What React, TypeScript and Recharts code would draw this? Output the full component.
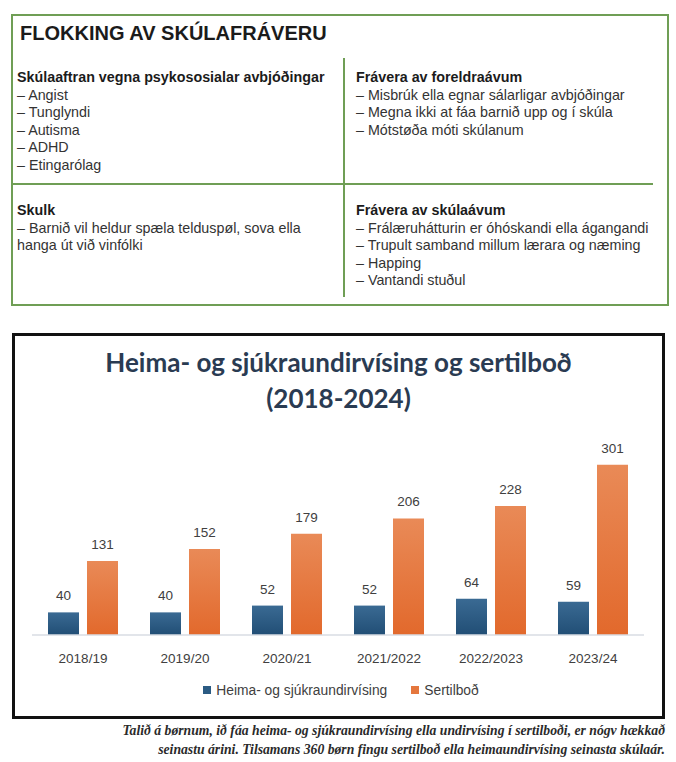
import React from 'react';
import { BarChart, Bar, XAxis, YAxis, LabelList, Legend } from 'recharts';

const categories = ['2018/19', '2019/20', '2020/21', '2021/2022', '2022/2023', '2023/24'];
const heimaValues = [40, 40, 52, 52, 64, 59];
const sertilbodValues = [131, 152, 179, 206, 228, 301];
const seriesNames = ['Heima- og sjúkraundirvísing', 'Sertilboð'];

const data = categories.map((c, i) => ({
  year: c,
  heima: heimaValues[i],
  sertilbod: sertilbodValues[i],
}));

const GREEN = '#6f9e55';
const boxFont = '"Liberation Sans", Arial, sans-serif';
const chartFont = '"Liberation Sans", Arial, sans-serif';

const blocks = [
  {
    left: 17,
    top: 69,
    head: 'Skúlaaftran vegna psykososialar avbjóðingar',
    lines: ['– Angist', '– Tunglyndi', '– Autisma', '– ADHD', '– Etingarólag'],
  },
  {
    left: 356,
    top: 69,
    head: 'Frávera av foreldraávum',
    lines: ['– Misbrúk ella egnar sálarligar avbjóðingar', '– Megna ikki at fáa barnið upp og í skúla', '– Mótstøða móti skúlanum'],
  },
  {
    left: 17,
    top: 202,
    head: 'Skulk',
    lines: ['– Barnið vil heldur spæla telduspøl, sova ella', 'hanga út við vinfólki'],
  },
  {
    left: 356,
    top: 202,
    head: 'Frávera av skúlaávum',
    lines: ['– Frálæruhátturin er óhóskandi ella ágangandi', '– Trupult samband millum lærara og næming', '– Happing', '– Vantandi stuðul'],
  },
];

function LegendContent() {
  const colors = ['#2b5b83', '#e5773d'];
  return (
    <div style={{ height: 20, display: 'flex', justifyContent: 'center', alignItems: 'center', fontFamily: chartFont, fontSize: 13.8, color: '#404040', paddingLeft: 6 }}>
      {seriesNames.map((n, i) => (
        <span key={n} style={{ display: 'flex', alignItems: 'center', marginLeft: i ? 24 : 0 }}>
          <span style={{ width: 8, height: 8, background: colors[i], display: 'inline-block', marginRight: 5 }} />
          {n}
        </span>
      ))}
    </div>
  );
}

export default function App() {
  return (
    <div style={{ position: 'absolute', left: 0, top: 0, width: 676, height: 762, background: '#fff', overflow: 'hidden' }}>
      {/* upper box */}
      <div style={{ position: 'absolute', left: 11, top: 14, width: 658, height: 292, border: `2.5px solid ${GREEN}`, boxSizing: 'border-box' }} />
      <div style={{ position: 'absolute', left: 343, top: 58, width: 1.5, height: 239, background: GREEN }} />
      <div style={{ position: 'absolute', left: 11, top: 183, width: 642, height: 1.5, background: GREEN }} />
      <div style={{ position: 'absolute', left: 20, top: 21, fontFamily: boxFont, fontWeight: 700, fontSize: 20, lineHeight: '24px', color: '#1b1b1b' }}>
        FLOKKING AV SKÚLAFRÁVERU
      </div>
      {blocks.map((b) => (
        <div key={b.head} style={{ position: 'absolute', left: b.left, top: b.top, fontFamily: boxFont, fontSize: 14.3, lineHeight: '17.6px', color: '#333', whiteSpace: 'nowrap' }}>
          <div style={{ fontWeight: 700, color: '#1b1b1b' }}>{b.head}</div>
          {b.lines.map((l) => (
            <div key={l}>{l}</div>
          ))}
        </div>
      ))}

      {/* chart box */}
      <div style={{ position: 'absolute', left: 12, top: 333, width: 653, height: 386, border: '3px solid #111', boxSizing: 'border-box' }} />
      <div style={{ position: 'absolute', left: 12, top: 344, width: 653, textAlign: 'center', fontFamily: 'Lato, sans-serif', fontWeight: 700, fontSize: 26, lineHeight: '36px', color: '#2a3b52' }}>
        Heima- og sjúkraundirvísing og sertilboð
        <br />
        (2018-2024)
      </div>
      <div style={{ position: 'absolute', left: 0, top: 440 }}>
        <BarChart width={676} height={265} data={data} margin={{ top: 14, right: 32, bottom: 5, left: 32 }} barSize={31} barGap={8}>
          <defs>
            <linearGradient id="blueGrad" x1="0" y1="0" x2="0" y2="1">
              <stop offset="0%" stopColor="#3a6a93" />
              <stop offset="100%" stopColor="#214e75" />
            </linearGradient>
            <linearGradient id="orangeGrad" x1="0" y1="0" x2="0" y2="1">
              <stop offset="0%" stopColor="#e98a57" />
              <stop offset="100%" stopColor="#e2692c" />
            </linearGradient>
          </defs>
          <XAxis
            dataKey="year"
            height={45}
            tickLine={false}
            axisLine={{ stroke: '#d9dde3', strokeWidth: 1.5 }}
            tickMargin={12}
            tick={{ fill: '#404040', fontSize: 13.5, fontFamily: chartFont }}
          />
          <YAxis hide domain={[0, 320]} />
          <Legend verticalAlign="bottom" content={<LegendContent />} />
          <Bar dataKey="heima" fill="url(#blueGrad)" isAnimationActive={false}>
            <LabelList dataKey="heima" position="top" offset={12} fill="#404040" fontSize={13.5} fontFamily={chartFont} />
          </Bar>
          <Bar dataKey="sertilbod" fill="url(#orangeGrad)" isAnimationActive={false}>
            <LabelList dataKey="sertilbod" position="top" offset={12} fill="#404040" fontSize={13.5} fontFamily={chartFont} />
          </Bar>
        </BarChart>
      </div>

      {/* caption */}
      <div style={{ position: 'absolute', right: 11, top: 721, textAlign: 'right', fontFamily: '"Liberation Serif", serif', fontStyle: 'italic', fontWeight: 700, fontSize: 13.7, lineHeight: '19px', color: '#2a2a2a', whiteSpace: 'nowrap' }}>
        Talið á børnum, ið fáa heima- og sjúkraundirvísing ella undirvísing í sertilboði, er nógv hækkað
        <br />
        seinastu árini. Tilsamans 360 børn fingu sertilboð ella heimaundirvísing seinasta skúlaár.
      </div>
    </div>
  );
}
